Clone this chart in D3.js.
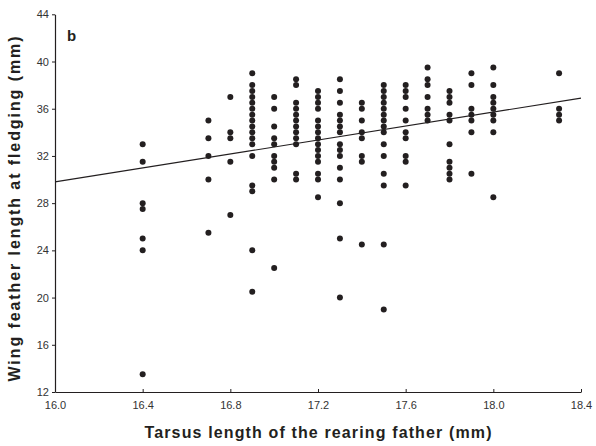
<!DOCTYPE html>
<html><head><meta charset="utf-8">
<script src="https://cdn.jsdelivr.net/npm/d3@7"></script>
<style>body{margin:0;background:#fff}svg{display:block}</style>
</head><body>
<svg id="c" width="596" height="446"></svg>
<script>
// Father tarsus lengths (mm) and wing lengths (mm) of fledglings at each
const tarsus = [16.4, 16.7, 16.8, 16.9, 17.0, 17.1, 17.2, 17.3, 17.4, 17.5, 17.6, 17.7, 17.8, 17.9, 18.0, 18.3];
const wing = [
  [33, 31.5, 28, 27.5, 25, 24, 13.5],
  [35, 33.5, 32, 30, 25.5],
  [37, 34, 33.5, 31.5, 27],
  [39, 38, 37.5, 37, 36.5, 36, 35.5, 35, 34.5, 34, 33.5, 33, 32, 29.5, 29, 24, 20.5],
  [37, 36, 34.5, 33.5, 33, 32, 31.5, 31, 30, 22.5],
  [38.5, 38, 36.5, 36, 35.5, 35, 34.5, 34, 33.5, 33, 30.5, 30],
  [37.5, 37, 36.5, 36, 35, 34.5, 34, 33.5, 33, 32.5, 32, 31.5, 30.5, 30, 28.5],
  [38.5, 37.5, 36.5, 35.5, 35, 34.5, 34, 33, 32.5, 32, 31, 30, 28, 25, 20],
  [36.5, 36, 35, 34, 33.5, 32, 31.5, 24.5],
  [38, 37.5, 37, 36.5, 36, 35.5, 35, 34.5, 34, 33, 32, 30.5, 29.5, 24.5, 19],
  [38, 37.5, 37, 36, 35, 34, 33.5, 32, 31.5, 29.5],
  [39.5, 38.5, 38, 37, 36, 35.5, 35],
  [37.5, 37, 36.5, 35.5, 35, 33, 31.5, 31, 30.5, 30],
  [39, 38, 36, 35.5, 35, 34, 30.5],
  [39.5, 38, 37, 36.5, 36, 35.5, 35, 34, 28.5],
  [39, 36, 35.5, 35]
];
const fitX = [16.0, 18.4];
const fitY = [29.8, 36.9];
const xTicks = [16.0, 16.4, 16.8, 17.2, 17.6, 18.0, 18.4];
const yTicks = [12, 16, 20, 24, 28, 32, 36, 40, 44];

const svg = d3.select("#c");
const L = 55, R = 581, T = 14.3, B = 392;
const x = d3.scaleLinear().domain([16.0, 18.4]).range([L, R]);
const y = d3.scaleLinear().domain([12, 44]).range([B, T]);
const font = "'Liberation Sans', Arial, sans-serif";

const pts = [];
tarsus.forEach((t, i) => wing[i].forEach(w => pts.push([t, w])));

svg.append("g").selectAll("circle").data(pts).join("circle")
  .attr("cx", d => x(d[0])).attr("cy", d => y(d[1])).attr("r", 3)
  .attr("fill", "#231f20");

svg.append("line")
  .attr("x1", x(fitX[0])).attr("y1", y(fitY[0]))
  .attr("x2", x(fitX[1])).attr("y2", y(fitY[1]))
  .attr("stroke", "#231f20").attr("stroke-width", 1.1);

const xa = svg.append("g").attr("transform", `translate(0,${B})`)
  .call(d3.axisBottom(x).tickValues(xTicks).tickFormat(d3.format(".1f")).tickSizeInner(-3).tickSizeOuter(0).tickPadding(9));
const ya = svg.append("g").attr("transform", `translate(${L},0)`)
  .call(d3.axisLeft(y).tickValues(yTicks).tickFormat(d3.format("d")).tickSizeInner(3).tickSizeOuter(0).tickPadding(3));
[xa, ya].forEach(a => {
  a.select(".domain").attr("stroke", "#231f20").attr("stroke-width", 1.2);
  a.selectAll(".tick line").attr("stroke", "#231f20");
  a.selectAll(".tick text").attr("fill", "#333").style("font-family", font).style("font-size", "11px");
});

svg.append("text").attr("x", 67).attr("y", 41).text("b")
  .style("font-family", font).style("font-size", "15px").style("font-weight", "bold").attr("fill", "#231f20");

const xt = svg.append("text").attr("x", (L + R) / 2).attr("y", 438).attr("text-anchor", "middle")
  .text("Tarsus length of the rearing father (mm)")
  .style("font-family", font).style("font-size", "16px").style("font-weight", "bold").attr("fill", "#231f20");
xt.attr("textLength", 347).attr("lengthAdjust", "spacing");

const yt = svg.append("text").attr("transform", `translate(20,209) rotate(-90)`).attr("text-anchor", "middle")
  .text("Wing feather length at fledging (mm)")
  .style("font-family", font).style("font-size", "16px").style("font-weight", "bold").attr("fill", "#231f20");
yt.attr("textLength", 345).attr("lengthAdjust", "spacing");
</script>
</body></html>
